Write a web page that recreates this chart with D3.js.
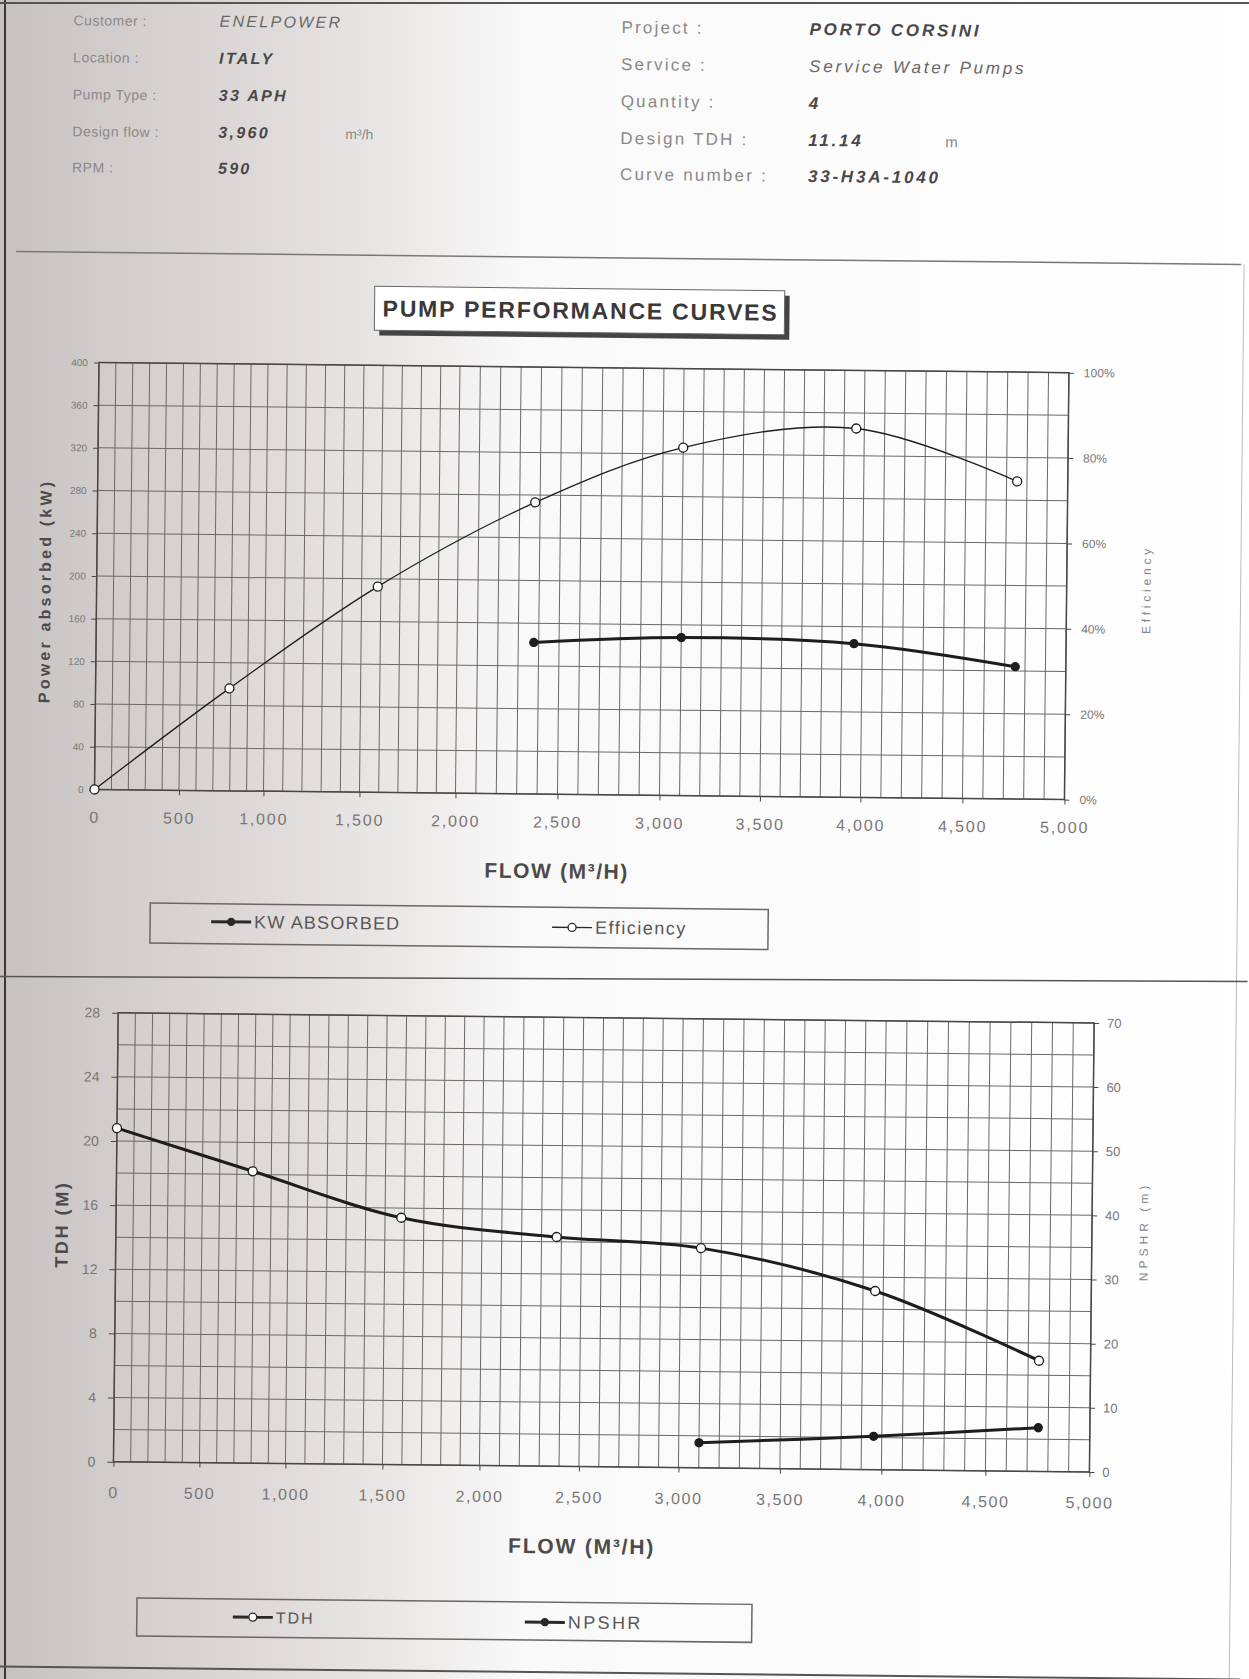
<!DOCTYPE html>
<html lang="en">

<head>
	<meta charset="utf-8">
	<style>
		body {
			margin: 0;
			background-color: white;
		}

		svg {
			display: block;
			font-family: 'Liberation Sans', Arial, sans-serif;
		}

		.grid line {
			stroke: #6d6868;
			stroke-width: 1;
		}

		.frame {
			fill: none;
			stroke: #4a4646;
			stroke-width: 1.5;
		}

		.axis path {
			display: none;
		}

		.axis line {
			stroke: #4a4646;
		}

		.axis text {
			fill: #7a7676;
		}

		.hdr-label {
			fill: #8c8888;
		}

		.hdr-value {
			fill: #4a4747;
			font-style: italic;
			font-weight: bold;
		}

		.hdr-value.light {
			font-weight: normal;
			fill: #6a6767;
		}

		.axis-title {
			fill: #4d4a4a;
			font-weight: bold;
		}

		.side-title {
			fill: #8a8686;
			font-size: 12px;
		}

		.series {
			fill: none;
			stroke: #1e1c1c;
		}

		.legend-box {
			fill: none;
			stroke: #6a6666;
			stroke-width: 1.5;
		}

		.legend text {
			fill: #5a5656;
		}
	</style>
</head>

<body>
	<svg width="1249" height="1679"></svg>
	<script src="https://d3js.org/d3.v7.min.js"></script>
	<script>
		// values
		const flow = [0, 792, 1584, 2376, 3100, 3960, 4752];
		const efficiency = [0, 0.24, 0.482, 0.683, 0.815, 0.864, 0.744];
		const kwFlow = [2376, 3100, 3960, 4752];
		const kwAbsorbed = [142, 148, 144, 124];
		const tdh = [20.8, 18.2, 15.4, 14.3, 13.7, 11.14, 6.9];
		const npshrFlow = [3100, 3960, 4752];
		const npshr = [3.9, 5.2, 6.8];

		const flowTicks = d3.range(0, 5001, 500);
		const kwTicks = d3.range(0, 401, 40);
		const effTicks = [0, 0.2, 0.4, 0.6, 0.8, 1];
		const tdhTicks = d3.range(0, 29, 4);
		const npshrTicks = d3.range(0, 71, 10);

		const headerLeftLabels = ["Customer :", "Location :", "Pump Type :", "Design flow :", "RPM :"];
		const headerLeftValues = ["ENELPOWER", "ITALY", "33 APH", "3,960", "590"];
		const headerLeftUnits = ["", "", "", "m³/h", ""];
		const headerRightLabels = ["Project :", "Service :", "Quantity :", "Design TDH :", "Curve number :"];
		const headerRightValues = ["PORTO CORSINI", "Service Water Pumps", "4", "11.14", "33-H3A-1040"];
		const headerRightUnits = ["", "", "", "m", ""];

		const lightValues = new Set(["ENELPOWER", "Service Water Pumps"]);

		const svg = d3.select("svg");

		// scanner shading on the left of the sheet
		const defs = svg.append("defs");
		const grad = defs.append("linearGradient").attr("id", "scan").attr("x1", 0).attr("x2", 1).attr("y1", 0).attr("y2", 0);
		[[0, "#c6c2c1"], [0.08, "#d0cccb"], [0.22, "#dedbda"], [0.33, "#eceae9"], [0.42, "#f9f9f9"], [1, "#ffffff"]]
			.forEach(s => grad.append("stop").attr("offset", s[0]).attr("stop-color", s[1]));

		svg.append("rect").attr("width", 1249).attr("height", 1679).attr("fill", "url(#scan)");
		svg.append("line").attr("x1", 5).attr("x2", 5).attr("y1", 0).attr("y2", 1679)
			.attr("stroke", "#3a3838").attr("stroke-width", 2);
		svg.append("line").attr("x1", 0).attr("x2", 1249).attr("y1", 3).attr("y2", 3)
			.attr("stroke", "#555").attr("stroke-width", 2);

		// the sheet was scanned slightly skewed
		const page = svg.append("g").attr("transform", "rotate(0.6,624,840)");

		// header
		const rowY = [31, 68, 105, 142, 178];
		headerLeftLabels.forEach((d, i) => {
			page.append("text").attr("class", "hdr-label").attr("font-size", 14).attr("letter-spacing", 0.5)
				.attr("x", 65).attr("y", rowY[i]).text(d);
			page.append("text").attr("class", "hdr-value" + (lightValues.has(headerLeftValues[i]) ? " light" : ""))
				.attr("font-size", 16).attr("letter-spacing", 2.3)
				.attr("x", 211).attr("y", rowY[i]).text(headerLeftValues[i]);
			if (headerLeftUnits[i]) page.append("text").attr("class", "hdr-label").attr("font-size", 14)
				.attr("x", 338).attr("y", rowY[i]).text(headerLeftUnits[i]);
		});
		headerRightLabels.forEach((d, i) => {
			page.append("text").attr("class", "hdr-label").attr("font-size", 17).attr("letter-spacing", 2.2)
				.attr("x", 613).attr("y", rowY[i] + 2).text(d);
			page.append("text").attr("class", "hdr-value" + (lightValues.has(headerRightValues[i]) ? " light" : ""))
				.attr("font-size", 17).attr("letter-spacing", 2.8)
				.attr("x", 801).attr("y", rowY[i] + 2).text(headerRightValues[i]);
			if (headerRightUnits[i]) page.append("text").attr("class", "hdr-label").attr("font-size", 15)
				.attr("x", 938).attr("y", rowY[i] + 2).text(headerRightUnits[i]);
		});

		// sheet rules
		page.append("line").attr("x1", 10).attr("x2", 1235).attr("y1", 258).attr("y2", 258).attr("stroke", "#777").attr("stroke-width", 1.5);
		page.append("line").attr("x1", 1238).attr("x2", 1238).attr("y1", 258).attr("y2", 1672).attr("stroke", "#bbb").attr("stroke-width", 1);
		page.append("line").attr("x1", 0).attr("x2", 1249).attr("y1", 983).attr("y2", 975).attr("stroke", "#555").attr("stroke-width", 1.5);
		page.append("line").attr("x1", 0).attr("x2", 1249).attr("y1", 1673).attr("y2", 1673).attr("stroke", "#555").attr("stroke-width", 2);

		// title box
		page.append("rect").attr("x", 374).attr("y", 294).attr("width", 410).attr("height", 44).attr("fill", "#444");
		page.append("rect").attr("x", 369).attr("y", 289).attr("width", 410).attr("height", 44).attr("fill", "#fff").attr("stroke", "#666");
		page.append("text").attr("x", 575).attr("y", 319).attr("text-anchor", "middle")
			.attr("font-size", 23).attr("font-weight", "bold").attr("letter-spacing", 1.8).attr("fill", "#3a3838")
			.text("PUMP PERFORMANCE CURVES");

		const drawGrid = function (x, y, yTicks) {
			const g = page.append("g").attr("class", "grid");
			g.selectAll("line.v").data(d3.range(0, 5001, 100)).enter().append("line")
				.attr("x1", d => x(d)).attr("x2", d => x(d))
				.attr("y1", y.range()[0]).attr("y2", y.range()[1]);
			g.selectAll("line.h").data(yTicks).enter().append("line")
				.attr("x1", x(0)).attr("x2", x(5000))
				.attr("y1", d => y(d)).attr("y2", d => y(d));
			page.append("rect").attr("class", "frame")
				.attr("x", x(0)).attr("y", y.range()[1])
				.attr("width", x(5000) - x(0)).attr("height", y.range()[0] - y.range()[1]);
		}

		const drawSeries = function (x, y, xs, ys, width, filled) {
			const pts = xs.map((d, i) => [x(d), y(ys[i])]);
			page.append("path").attr("class", "series").attr("stroke-width", width)
				.attr("d", d3.line().curve(d3.curveCatmullRom.alpha(0.5))(pts));
			page.selectAll(null).data(pts).enter().append("circle")
				.attr("cx", d => d[0]).attr("cy", d => d[1]).attr("r", filled ? 4 : 4.5)
				.attr("fill", filled ? "#1e1c1c" : "#fff").attr("stroke", "#1e1c1c").attr("stroke-width", 1.3);
		}

		const legendItem = function (g, x, y, label, width, filled, size, spacing) {
			g.append("line").attr("x1", x).attr("x2", x + 40).attr("y1", y).attr("y2", y)
				.attr("stroke", "#2a2828").attr("stroke-width", width);
			g.append("circle").attr("cx", x + 20).attr("cy", y).attr("r", filled ? 3.5 : 4)
				.attr("fill", filled ? "#2a2828" : "#fff").attr("stroke", "#2a2828").attr("stroke-width", 1.3);
			g.append("text").attr("x", x + 43).attr("y", y + 6).attr("font-size", size).attr("letter-spacing", spacing).text(label);
		}

		// ---------- top chart ----------
		const topX = d3.scaleLinear().domain([0, 1000, 2000, 3000, 4000, 5000]).range([94, 263, 455, 659, 860, 1064]);
		const topY = d3.scaleLinear().domain([0, 400]).range([795, 368]);
		const topY2 = d3.scaleLinear().domain([0, 1]).range([795, 368]);

		drawGrid(topX, topY, kwTicks);

		page.append("g").attr("class", "axis").attr("transform", "translate(0,795)")
			.call(d3.axisBottom(topX).tickValues(flowTicks).tickFormat(d3.format(",")).tickSize(5).tickPadding(17))
			.selectAll("text").attr("font-size", 16).attr("letter-spacing", 1.8);
		page.append("g").attr("class", "axis").attr("transform", "translate(94,0)")
			.call(d3.axisLeft(topY).tickValues(kwTicks).tickSize(5).tickPadding(6))
			.selectAll("text").attr("font-size", 10);
		page.append("g").attr("class", "axis").attr("transform", "translate(1064,0)")
			.call(d3.axisRight(topY2).tickValues(effTicks).tickFormat(d3.format(".0%")).tickSize(5).tickPadding(10))
			.selectAll("text").attr("font-size", 12);

		drawSeries(topX, topY2, flow, efficiency, 1.3, false);
		drawSeries(topX, topY, kwFlow, kwAbsorbed, 3, true);

		page.append("text").attr("class", "axis-title").attr("font-size", 16).attr("letter-spacing", 3.2)
			.attr("text-anchor", "middle").attr("transform", "translate(48,597) rotate(-90)")
			.text("Power absorbed (kW)");
		page.append("text").attr("class", "side-title").attr("letter-spacing", 3.8)
			.attr("text-anchor", "middle").attr("transform", "translate(1148,584) rotate(-90)")
			.text("Efficiency");
		page.append("text").attr("class", "axis-title").attr("font-size", 21).attr("letter-spacing", 1.6)
			.attr("text-anchor", "middle").attr("x", 557).attr("y", 879)
			.text("FLOW (M³/H)");

		const legend1 = page.append("g").attr("class", "legend");
		legend1.append("rect").attr("class", "legend-box").attr("x", 151).attr("y", 908).attr("width", 618).attr("height", 40);
		legendItem(legend1, 212, 926, "KW ABSORBED", 3, true, 18, 1.2);
		legendItem(legend1, 553, 928, "Efficiency", 1.3, false, 18, 1.5);

		// ---------- bottom chart ----------
		const botX = d3.scaleLinear().domain([0, 1000, 2000, 3000, 4000, 5000]).range([120, 292, 486, 685, 888, 1096]);
		const botY = d3.scaleLinear().domain([0, 28]).range([1467, 1018]);
		const botY2 = d3.scaleLinear().domain([0, 70]).range([1467, 1018]);

		drawGrid(botX, botY, d3.range(0, 29, 2));

		page.append("g").attr("class", "axis").attr("transform", "translate(0,1467)")
			.call(d3.axisBottom(botX).tickValues(flowTicks).tickFormat(d3.format(",")).tickSize(5).tickPadding(20))
			.selectAll("text").attr("font-size", 16).attr("letter-spacing", 1.6);
		page.append("g").attr("class", "axis").attr("transform", "translate(120,0)")
			.call(d3.axisLeft(botY).tickValues(tdhTicks).tickSize(6).tickPadding(12))
			.selectAll("text").attr("font-size", 14);
		page.append("g").attr("class", "axis").attr("transform", "translate(1096,0)")
			.call(d3.axisRight(botY2).tickValues(npshrTicks).tickSize(5).tickPadding(8))
			.selectAll("text").attr("font-size", 13);

		drawSeries(botX, botY, flow, tdh, 3, false);
		drawSeries(botX, botY2, npshrFlow, npshr, 3, true);

		page.append("text").attr("class", "axis-title").attr("font-size", 18).attr("letter-spacing", 2.6)
			.attr("text-anchor", "middle").attr("transform", "translate(72,1230) rotate(-90)")
			.text("TDH (M)");
		page.append("text").attr("class", "side-title").attr("letter-spacing", 4)
			.attr("text-anchor", "middle").attr("transform", "translate(1152,1226) rotate(-90)")
			.text("NPSHR (m)");
		page.append("text").attr("class", "axis-title").attr("font-size", 21).attr("letter-spacing", 1.8)
			.attr("text-anchor", "middle").attr("x", 589).attr("y", 1554)
			.text("FLOW (M³/H)");

		const legend2 = page.append("g").attr("class", "legend");
		legend2.append("rect").attr("class", "legend-box").attr("x", 145).attr("y", 1603).attr("width", 615).attr("height", 38);
		legendItem(legend2, 241, 1621, "TDH", 3, false, 16, 2);
		legendItem(legend2, 533, 1623, "NPSHR", 3, true, 18, 2.4);
	</script>
</body>

</html>
